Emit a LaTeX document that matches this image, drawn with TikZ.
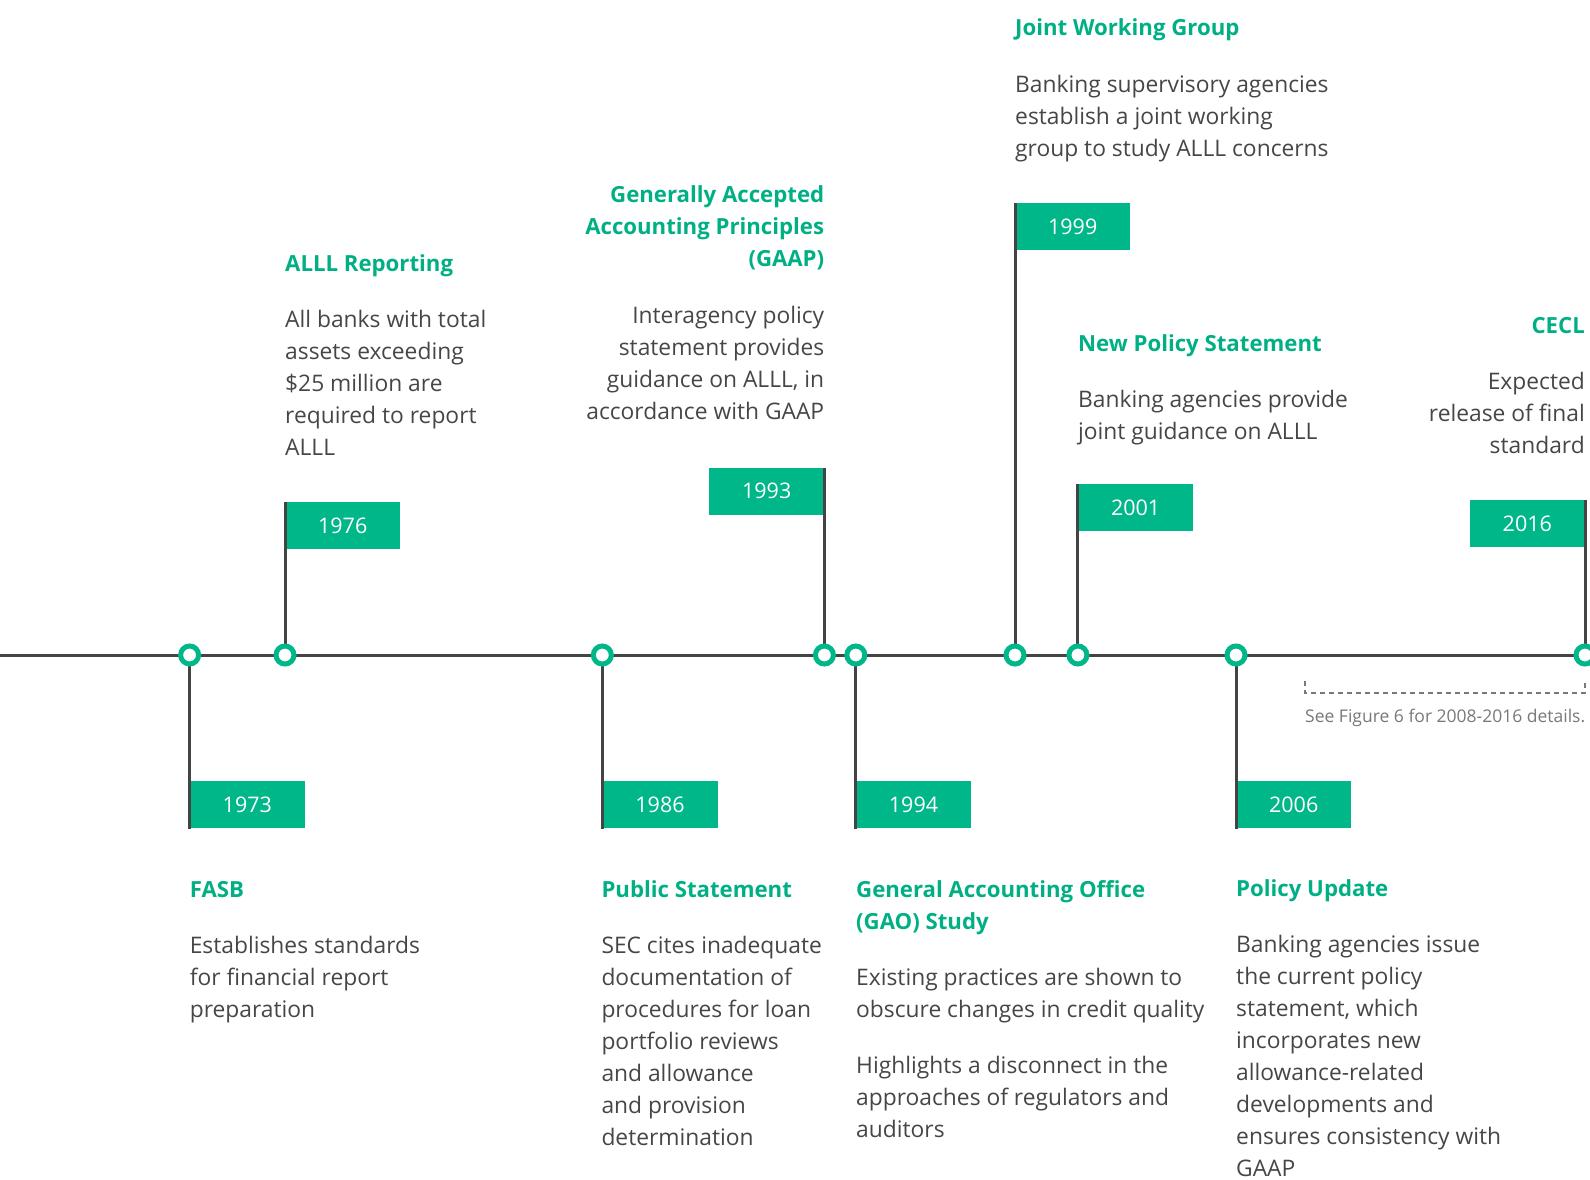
\documentclass[tikz,border=0pt]{standalone}
\usepackage{fontspec}
\setmainfont{Open Sans}
\definecolor{tlgreen}{RGB}{0,183,137}
\definecolor{headgreen}{RGB}{0,176,132}
\definecolor{bodygray}{RGB}{70,70,70}
\definecolor{linegray}{RGB}{68,68,68}
\definecolor{notegray}{RGB}{120,120,120}
\newcommand{\bodyfnt}{\fontsize{22.8}{32}\selectfont}
\newcommand{\headfnt}{\fontsize{22.2}{32}\selectfont\bfseries}
\newcommand{\yearfnt}{\fontsize{21.5}{25}\selectfont}
\newcommand{\notefnt}{\fontsize{17.5}{20}\selectfont}
\newcommand{\fl}{\rule{0pt}{24pt}}
\begin{document}
\begin{tikzpicture}[x=1pt,y=-1pt,
  axis/.style={line width=3pt, draw=linegray},
  pole/.style={line width=3pt, draw=linegray},
  dot/.style={circle, draw=tlgreen, line width=5pt, fill=white, minimum size=18pt, inner sep=0pt},
  yearflag/.style={fill=tlgreen, text=white, minimum width=115pt, minimum height=47pt, inner sep=0pt, font=\yearfnt},
  head/.style={text=headgreen, font=\headfnt, inner sep=0pt},
  body/.style={text=bodygray, font=\bodyfnt, inner sep=0pt},
  note/.style={text=notegray, font=\notefnt, inner sep=0pt},
  bracket/.style={draw=notegray, line width=1.2pt, dash pattern=on 5pt off 4pt}]
\useasboundingbox (0,0) rectangle (1590,1179);

% axis
\coordinate (L) at (0,655);
\coordinate (R) at (1590,655);
\draw[axis] (L) -- (R);

% event points
\coordinate (p1973) at (189.6,655);
\coordinate (p1976) at (285,655);
\coordinate (p1986) at (602.3,655);
\coordinate (p1993) at (824.4,655);
\coordinate (p1994) at (855.8,655);
\coordinate (p1999) at (1015,655);
\coordinate (p2001) at (1077.9,655);
\coordinate (p2006) at (1236,655);
\coordinate (p2016) at (1585,655);

% flags
\node[yearflag, anchor=south west] (f1973) at (189.6,828.5) {1973};
\node[yearflag, anchor=north west] (f1976) at (285,502) {1976};
\node[yearflag, anchor=south west] (f1986) at (602.3,828.5) {1986};
\node[yearflag, anchor=north east] (f1993) at (824.4,467.5) {1993};
\node[yearflag, anchor=south west] (f1994) at (855.8,828.5) {1994};
\node[yearflag, anchor=north west] (f1999) at (1015,203) {1999};
\node[yearflag, anchor=north west] (f2001) at (1077.9,484) {2001};
\node[yearflag, anchor=south west] (f2006) at (1236,828.5) {2006};
\node[yearflag, anchor=north east] (f2016) at (1585,500) {2016};

% poles
\draw[pole] (p1973) -- (f1973.south west);
\draw[pole] (p1976) -- (f1976.north west);
\draw[pole] (p1986) -- (f1986.south west);
\draw[pole] (p1993) -- (f1993.north east);
\draw[pole] (p1994) -- (f1994.south west);
\draw[pole] (p1999) -- (f1999.north west);
\draw[pole] (p2001) -- (f2001.north west);
\draw[pole] (p2006) -- (f2006.south west);
\draw[pole] (p2016) -- (f2016.north east);

% dots
\foreach \y in {1973,1976,1986,1993,1994,1999,2001,2006,2016}
  \node[dot] (c\y) at (p\y) {};

% upper texts
\node[head, anchor=north west, align=left] (h1976) at (285,247.5) {\fl ALLL Reporting};
\node[body, anchor=north west, align=left] (b1976) at (285,303.5) {\fl All banks with total\\assets exceeding\\\$25 million are\\required to report\\ALLL};

\node[head, anchor=north east, align=right] (h1993) at (824.4,178.5) {\fl Generally Accepted\\Accounting Principles\\(GAAP)};
\node[body, anchor=north east, align=right] (b1993) at (824.4,299.5) {\fl Interagency policy\\statement provides\\guidance on ALLL, in\\accordance with GAAP};

\node[head, anchor=north west, align=left] (h1999) at (1015,11.5) {\fl Joint Working Group};
\node[body, anchor=north west, align=left] (b1999) at (1015,68.2) {\fl Banking supervisory agencies\\establish a joint working\\group to study ALLL concerns};

\node[head, anchor=north west, align=left] (h2001) at (1077.9,327.7) {\fl New Policy Statement};
\node[body, anchor=north west, align=left] (b2001) at (1077.9,383.5) {\fl Banking agencies provide\\joint guidance on ALLL};

\node[head, anchor=north east, align=right] (h2016) at (1585,309.5) {\fl CECL};
\node[body, anchor=north east, align=right] (b2016) at (1585,365.3) {\fl Expected\\release of final\\standard};

% lower texts
\node[head, anchor=north west, align=left] (h1973) at (189.6,873.3) {\fl FASB};
\node[body, anchor=north west, align=left] (b1973) at (189.6,929) {\fl Establishes standards\\for financial report\\preparation};

\node[head, anchor=north west, align=left] (h1986) at (601.3,873.3) {\fl Public Statement};
\node[body, anchor=north west, align=left] (b1986) at (601.3,929) {\fl SEC cites inadequate\\documentation of\\procedures for loan\\portfolio reviews\\and allowance\\and provision\\determination};

\node[head, anchor=north west, align=left] (h1994) at (856,873.3) {\fl General Accounting Office\\(GAO) Study};
\node[body, anchor=north west, align=left] (b1994a) at (856,961.5) {\fl Existing practices are shown to\\obscure changes in credit quality};
\node[body, anchor=north west, align=left] (b1994b) at (856,1049.7) {\fl Highlights a disconnect in the\\approaches of regulators and\\auditors};

\node[head, anchor=north west, align=left] (h2006) at (1236,872.3) {\fl Policy Update};
\node[body, anchor=north west, align=left] (b2006) at (1236,928) {\fl Banking agencies issue\\the current policy\\statement, which\\incorporates new\\allowance-related\\developments and\\ensures consistency with\\GAAP};

% bracket and note
\coordinate (bl) at (1305,681);
\coordinate (br) at (1585,681);
\draw[bracket] (bl) -- ++(0,12) -| (br);
\node[note, anchor=base west] (note) at (1305,722) {See Figure 6 for 2008-2016 details.};
\end{tikzpicture}
\end{document}
